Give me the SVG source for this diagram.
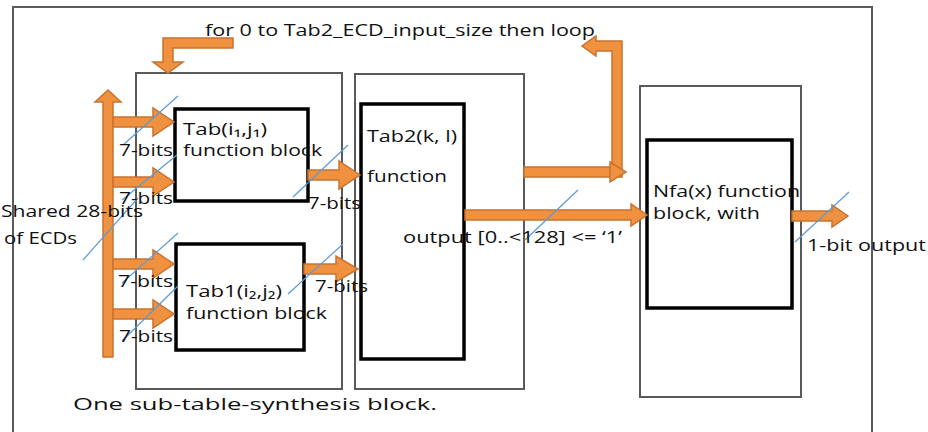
<svg xmlns="http://www.w3.org/2000/svg" width="928" height="432" viewBox="0 0 928 432">
<style>
.frame{fill:none;stroke:#5a5a5a;stroke-width:2}
.blk{fill:#fff;stroke:#000;stroke-width:3.5}
.arr{fill:#F0913F;stroke:#C87330;stroke-width:1.5;stroke-linejoin:miter}
.sl{stroke:#5B9BD5;stroke-width:1.2;fill:none}
text{font-family:"Open Sans","Liberation Sans","DejaVu Sans",sans-serif;font-size:16px;fill:#111}
</style>
<rect width="928" height="432" fill="#fff"/>
<g id="outer-frame"><rect class="frame" x="13" y="7" width="859" height="440"/></g>
<g id="sub-block-1"><rect class="frame" x="136" y="73" width="206" height="316"/></g>
<g id="sub-block-2"><rect class="frame" x="355" y="74" width="169" height="315"/></g>
<g id="nfa-outer"><rect class="frame" x="640" y="86" width="161" height="311"/></g>
<g id="tab-block">
<rect class="blk" x="175" y="109" width="133" height="92"/>
<text x="183" y="135" textLength="84" lengthAdjust="spacingAndGlyphs">Tab(i₁,j₁)</text>
<text x="183" y="156" textLength="139" lengthAdjust="spacingAndGlyphs">function block</text>
</g>
<g id="tab1-block">
<rect class="blk" x="176" y="244" width="128" height="106"/>
<text x="186" y="297" font-size="15" textLength="96" lengthAdjust="spacingAndGlyphs">Tab1(i₂,j₂)</text>
<text x="186" y="319" textLength="141" lengthAdjust="spacingAndGlyphs">function block</text>
</g>
<g id="tab2-block">
<rect class="blk" x="361" y="104" width="103" height="255"/>
<text x="367" y="142" textLength="90" lengthAdjust="spacingAndGlyphs">Tab2(k, l)</text>
<text x="367" y="182" textLength="80" lengthAdjust="spacingAndGlyphs">function</text>
</g>
<g id="nfa-block">
<rect class="blk" x="647" y="140" width="145" height="168"/>
<text x="653" y="197" textLength="147" lengthAdjust="spacingAndGlyphs">Nfa(x) function</text>
<text x="653" y="219" textLength="107" lengthAdjust="spacingAndGlyphs">block, with</text>
</g>
<g id="connectors">
<path class="arr" d="M103,357 L103,102 L95,102 L108,90 L121,102 L113,102 L113,357 Z"/>
<path class="arr" d="M113,117 L153,117 L153,108 L174,122 L153,136 L153,127 L113,127 Z"/>
<path class="arr" d="M113,177 L153,177 L153,168 L174,182 L153,196 L153,187 L113,187 Z"/>
<path class="arr" d="M113,259 L153,259 L153,250 L174,264 L153,278 L153,269 L113,269 Z"/>
<path class="arr" d="M113,309 L153,309 L153,300 L174,314 L153,328 L153,319 L113,319 Z"/>
<path class="arr" d="M308,170 L339,170 L339,161 L360,175 L339,189 L339,180 L308,180 Z"/>
<path class="arr" d="M304,264 L336,264 L336,256 L358,269 L336,282 L336,274 L304,274 Z"/>
<path class="arr" d="M465,210 L631,210 L631,204 L647,215 L631,226 L631,220 L465,220 Z"/>
<path class="arr" d="M792,211 L832,211 L832,205 L848,216 L832,227 L832,221 L792,221 Z"/>
<path class="arr" d="M233,38 L163,38 L163,62 L153,62 L168,73 L183,62 L173,62 L173,48 L233,48 Z"/>
<path class="arr" d="M524,167 L612,167 L612,51 L596,51 L596,56 L582,46 L596,36 L596,41 L622,41 L622,177 L524,177 Z"/>
<path class="arr" d="M610,162 L626,172 L610,182 Z"/>
<line class="sl" x1="83" y1="260" x2="138" y2="198"/>
<line class="sl" x1="123" y1="145" x2="178" y2="96"/>
<line class="sl" x1="122" y1="200" x2="177" y2="155"/>
<line class="sl" x1="122" y1="283" x2="178" y2="233"/>
<line class="sl" x1="122" y1="341" x2="178" y2="286"/>
<line class="sl" x1="293" y1="197" x2="348" y2="145"/>
<line class="sl" x1="288" y1="294" x2="343" y2="244"/>
<line class="sl" x1="525" y1="240" x2="578" y2="190"/>
<line class="sl" x1="795" y1="242" x2="849" y2="192"/>
</g>
<g id="labels">
<text x="205" y="36" textLength="390" lengthAdjust="spacingAndGlyphs">for 0 to Tab2_ECD_input_size then loop</text>
<text x="119" y="156" textLength="54" lengthAdjust="spacingAndGlyphs">7-bits</text>
<text x="119" y="204" textLength="54" lengthAdjust="spacingAndGlyphs">7-bits</text>
<text x="118" y="287" textLength="55" lengthAdjust="spacingAndGlyphs">7-bits</text>
<text x="119" y="342" textLength="54" lengthAdjust="spacingAndGlyphs">7-bits</text>
<text x="308" y="209" textLength="53" lengthAdjust="spacingAndGlyphs">7-bits</text>
<text x="315" y="292" textLength="53" lengthAdjust="spacingAndGlyphs">7-bits</text>
<text x="1" y="217" textLength="142" lengthAdjust="spacingAndGlyphs">Shared 28-bits</text>
<text x="4" y="244" textLength="73" lengthAdjust="spacingAndGlyphs">of ECDs</text>
<text x="403" y="243" textLength="219" lengthAdjust="spacingAndGlyphs">output [0..&lt;128] &lt;= ‘1’</text>
<text x="807" y="251" textLength="119" lengthAdjust="spacingAndGlyphs">1-bit output</text>
<text x="73" y="410" font-size="18" textLength="364" lengthAdjust="spacingAndGlyphs">One sub-table-synthesis block.</text>
</g>
</svg>
